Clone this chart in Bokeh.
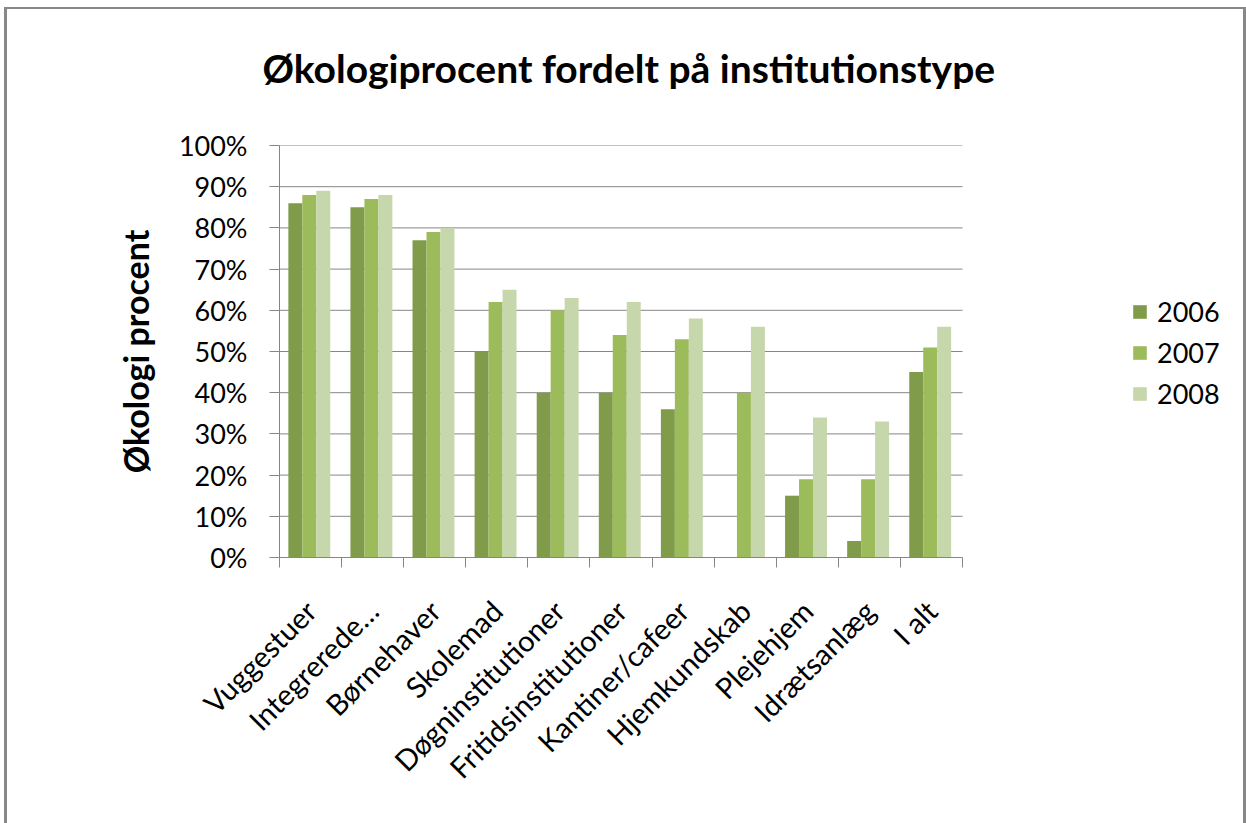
import math
from bokeh.plotting import figure
from bokeh.models import (ColumnDataSource, Range1d, FixedTicker, PrintfTickFormatter,
                          Legend, LegendItem, Title)
from bokeh.layouts import column
from bokeh.transform import dodge
from bokeh.embed import file_html
from bokeh.resources import INLINE

categories = ["Vuggestuer", "Integrerede…", "Børnehaver", "Skolemad", "Døgninstitutioner",
              "Fritidsinstitutioner", "Kantiner/cafeer", "Hjemkundskab", "Plejehjem",
              "Idrætsanlæg", "I alt"]
years = ["2006", "2007", "2008"]
v2006 = [86, 85, 77, 50, 40, 40, 36, 0, 15, 4, 45]
v2007 = [88, 87, 79, 62, 60, 54, 53, 40, 19, 19, 51]
v2008 = [89, 88, 80, 65, 63, 62, 58, 56, 34, 33, 56]
y_ticks = list(range(0, 101, 10))

colors = ["#809B4A", "#9CBB5B", "#C7D7AC"]
FONT = "Lato"
GRID = "#868686"

n = len(categories)
centers = [i + 0.5 for i in range(n)]
src = ColumnDataSource(dict(x=centers, v2006=v2006, v2007=v2007, v2008=v2008))

W, H = 1236, 814
LEFT, TOP, BOTTOM = 272, 136, 266
plot_px = 683                      # width of the category area in pixels
frame_px = W - LEFT                # frame extends to the right edge (legend lives there)
x_end = n * frame_px / plot_px

p = figure(width=W, height=H, output_backend="svg", toolbar_location=None,
           x_range=Range1d(0, x_end), y_range=Range1d(0, 100),
           min_border_left=LEFT, min_border_right=0, min_border_top=TOP, min_border_bottom=BOTTOM)
p.outline_line_color = None
p.background_fill_color = "white"
p.border_fill_color = "white"

# empty spacer between the plot area and the title
spacer = Title(text=" ", text_font=FONT, text_font_size="10px", standoff=41)
p.add_layout(spacer, "above")
title = Title(text="Økologiprocent fordelt på institutionstype", align="left",
              text_font=FONT, text_font_size="39px", text_font_style="bold",
              text_color="black", standoff=0, offset=-17)
p.add_layout(title, "above")

# horizontal gridlines limited to the category area
grid_y = y_ticks[1:]
p.segment(x0=[0] * len(grid_y), x1=[n] * len(grid_y), y0=grid_y, y1=grid_y,
          line_color=GRID, line_width=1)

bw = 0.225
renderers = []
for k, (col, c) in enumerate(zip(["v2006", "v2007", "v2008"], colors)):
    r = p.vbar(x=dodge("x", (k - 1) * bw - 0.02, range=p.x_range), top=col, width=bw,
               source=src, fill_color=c, line_color=None)
    renderers.append(r)

# y axis
p.yaxis.ticker = FixedTicker(ticks=y_ticks)
p.yaxis.formatter = PrintfTickFormatter(format="%d%%")
p.yaxis.major_label_text_font = FONT
p.yaxis.major_label_text_font_size = "27px"
p.yaxis.major_label_text_color = "black"
p.yaxis.major_tick_out = 10
p.yaxis.major_tick_in = 0
p.yaxis.minor_tick_out = 0
p.yaxis.minor_tick_in = 0
p.yaxis.major_label_standoff = 22
p.yaxis.axis_line_color = GRID
p.yaxis.major_tick_line_color = GRID
p.yaxis.axis_label = "Økologi procent"
p.yaxis.axis_label_text_font = FONT
p.yaxis.axis_label_text_font_size = "34px"
p.yaxis.axis_label_text_font_style = "bold"
p.yaxis.axis_label_text_color = "black"
p.yaxis.axis_label_standoff = 20

# x axis
p.xaxis.bounds = (0, n)
p.xaxis.ticker = FixedTicker(ticks=centers, minor_ticks=list(range(n + 1)))
p.xaxis.major_label_overrides = {c: name for c, name in zip(centers, categories)}
p.xaxis.major_label_orientation = math.pi / 4
p.xaxis.major_label_text_font = FONT
p.xaxis.major_label_text_font_size = "29px"
p.xaxis.major_label_text_color = "black"
p.xaxis.major_tick_out = 0
p.xaxis.major_tick_in = 0
p.xaxis.minor_tick_out = 10
p.xaxis.minor_tick_in = 0
p.xaxis.minor_tick_line_color = GRID
p.xaxis.axis_line_color = GRID
p.xaxis.major_label_standoff = 38

p.xgrid.visible = False
p.ygrid.visible = False

legend = Legend(items=[LegendItem(label=y, renderers=[r]) for y, r in zip(years, renderers)],
                location=(852, 147), padding=0, margin=0, border_line_color=None,
                background_fill_alpha=0, glyph_width=17, glyph_height=17,
                label_text_font=FONT, label_text_font_size="27px", label_text_color="black",
                label_standoff=9, label_height=27, spacing=8)
p.add_layout(legend)

layout = column(p, styles={"border-left": "3px solid #888888", "border-right": "3px solid #888888",
                           "border-top": "2px solid #888888",
                           "margin-left": "4px", "margin-top": "7px"})
open("out.html", "w").write(file_html(layout, INLINE))
